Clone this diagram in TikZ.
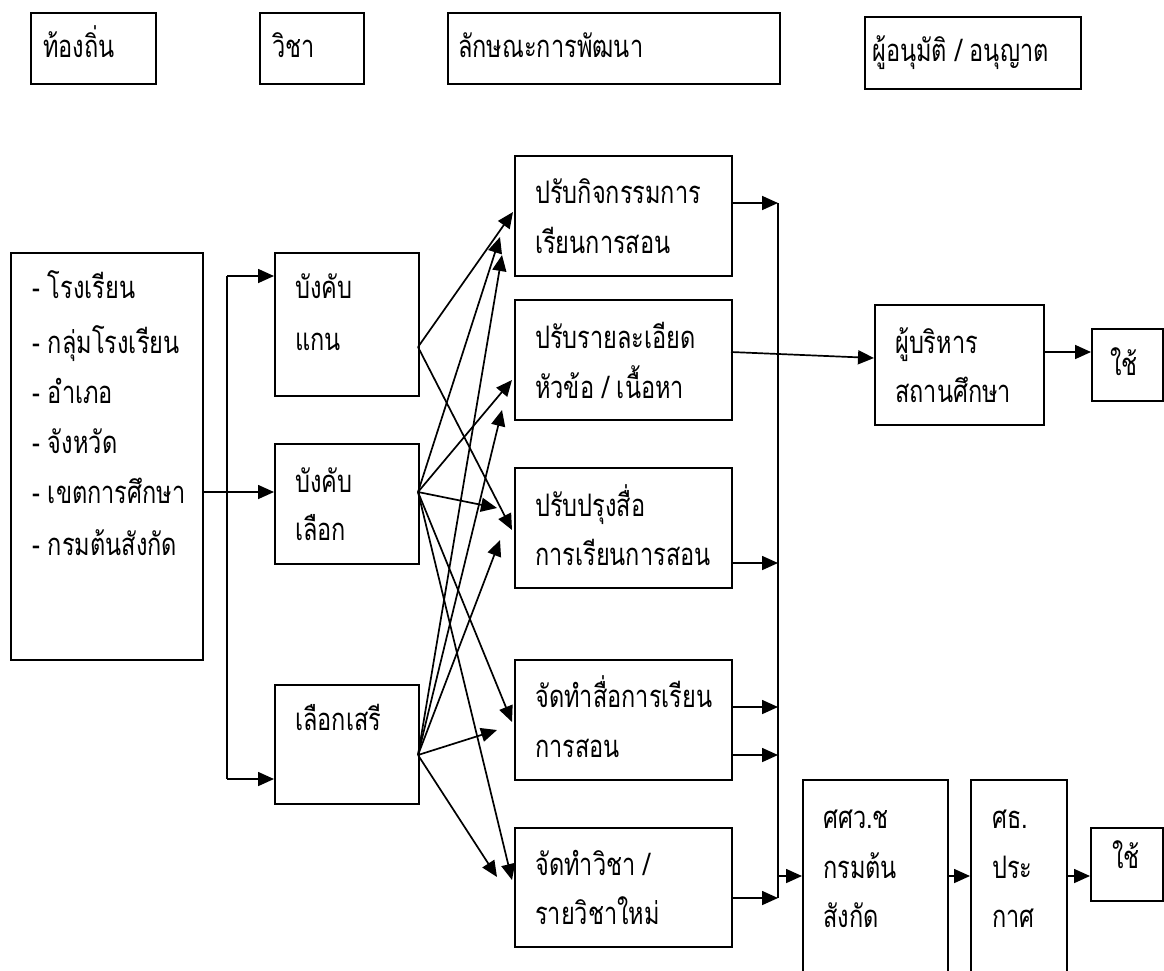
\documentclass[tikz,border=0pt]{standalone}
\usepackage{fontspec}
\newfontfamily\thai[Script=Thai,FakeStretch=0.76]{Loma}
\usetikzlibrary{arrows.meta}
\begin{document}
\begin{tikzpicture}[x=1pt,y=-1pt,
  box/.style={draw, line width=1.7pt, inner sep=0, anchor=north west},
  txt/.style={font=\thai\fontsize{31}{36}\selectfont, anchor=base west, inner sep=0},
  arr/.style={line width=1.7pt, -{Triangle[length=16pt,width=14pt]}},
  ln/.style={line width=1.7pt}]
\useasboundingbox (0,0) rectangle (1164,970);
% header boxes
\node[box, minimum width=125pt, minimum height=71pt] (local) at (30,12) {};
\node[box, minimum width=104pt, minimum height=71pt] (subj) at (259,12) {};
\node[box, minimum width=332pt, minimum height=71pt] (dev) at (447,12) {};
\node[box, minimum width=216pt, minimum height=72pt] (appr) at (864,16) {};
% left
\node[box, minimum width=192pt, minimum height=407pt] (area) at (10,252) {};
\node[box, minimum width=144pt, minimum height=143pt] (kan) at (274,252) {};
\node[box, minimum width=144pt, minimum height=120pt] (lek) at (274,443) {};
\node[box, minimum width=144pt, minimum height=119pt] (seri) at (274,684) {};
% column 3
\node[box, minimum width=217pt, minimum height=120pt] (c1) at (514,155) {};
\node[box, minimum width=217pt, minimum height=120pt] (c2) at (514,299) {};
\node[box, minimum width=217pt, minimum height=120pt] (c3) at (514,467) {};
\node[box, minimum width=217pt, minimum height=120pt] (c4) at (514,659) {};
\node[box, minimum width=217pt, minimum height=119pt] (c5) at (514,827) {};
% right
\node[box, minimum width=169pt, minimum height=120pt] (admin) at (874,304) {};
\node[box, minimum width=71pt, minimum height=72pt] (use1) at (1091,328) {};
\node[box, minimum width=145pt, minimum height=220pt] (sswc) at (802,779) {};
\node[box, minimum width=96pt, minimum height=220pt] (sorT) at (970,779) {};
\node[box, minimum width=72pt, minimum height=73pt] (use2) at (1090,827) {};
% texts
\node[txt] (t1) at (43,57) {ท้องถิ่น};
\node[txt] (t2) at (272,57) {วิชา};
\node[txt] (t3) at (458,57) {ลักษณะการพัฒนา};
\node[txt] (t4) at (872,61) {ผู้อนุมัติ / อนุญาต};
\node[txt] (a1) at (32,298) {- โรงเรียน};
\node[txt] (a2) at (32,353) {- กลุ่มโรงเรียน};
\node[txt] (a3) at (32,403) {- อำเภอ};
\node[txt] (a4) at (32,453) {- จังหวัด};
\node[txt] (a5) at (32,503) {- เขตการศึกษา};
\node[txt] (a6) at (32,555) {- กรมต้นสังกัด};
\node[txt] (k1) at (295,298) {บังคับ};
\node[txt] (k2) at (295,350) {แกน};
\node[txt] (l1) at (295,492) {บังคับ};
\node[txt] (l2) at (295,540) {เลือก};
\node[txt] (s1) at (295,730) {เลือกเสรี};
\node[txt] (c1a) at (535,203) {ปรับกิจกรรมการ};
\node[txt] (c1b) at (535,253) {เรียนการสอน};
\node[txt] (c2a) at (535,348) {ปรับรายละเอียด};
\node[txt] (c2b) at (535,398) {หัวข้อ / เนื้อหา};
\node[txt] (c3a) at (535,516) {ปรับปรุงสื่อ};
\node[txt] (c3b) at (535,565) {การเรียนการสอน};
\node[txt] (c4a) at (535,707) {จัดทำสื่อการเรียน};
\node[txt] (c4b) at (535,757) {การสอน};
\node[txt] (c5a) at (535,875) {จัดทำวิชา /};
\node[txt] (c5b) at (535,924) {รายวิชาใหม่};
\node[txt] (ad1) at (895,353) {ผู้บริหาร};
\node[txt] (ad2) at (895,402) {สถานศึกษา};
\node[txt] (u1) at (1110,375) {ใช้};
\node[txt] (w1) at (823,828) {ศศว.ช};
\node[txt] (w2) at (823,878) {กรมต้น};
\node[txt] (w3) at (823,927) {สังกัด};
\node[txt] (x1) at (992,828) {ศธ.};
\node[txt] (x2) at (992,878) {ประ};
\node[txt] (x3) at (992,927) {กาศ};
\node[txt] (u2) at (1112,868) {ใช้};
% left distribution
\coordinate (aOut) at (202,492);
\coordinate (vTop) at (227,276);
\coordinate (vBot) at (227,779);
\draw[arr] (aOut) -- (lek.west |- aOut);
\draw[ln] (vTop) -- (vBot);
\draw[arr] (vTop) -- (kan.west |- vTop);
\draw[arr] (vBot) -- (seri.west |- vBot);
% fan arrows
\coordinate (sK) at (418,347);
\coordinate (sL) at (418,492);
\coordinate (sS) at (418,755);
\coordinate (p1a) at (513,212);
\coordinate (p1b) at (500,237);
\coordinate (p1c) at (502,255);
\coordinate (p2a) at (512,380);
\coordinate (p2b) at (502,410);
\coordinate (p3a) at (497,508);
\coordinate (p3b) at (512,530);
\coordinate (p3c) at (500,540);
\coordinate (p4a) at (512,722);
\coordinate (p4b) at (497,730);
\coordinate (p5a) at (512,880);
\coordinate (p5b) at (497,877);
\draw[arr] (sK) -- (p1a);
\draw[arr] (sK) -- (p3b);
\draw[arr] (sL) -- (p1b);
\draw[arr] (sL) -- (p2a);
\draw[arr] (sL) -- (p3a);
\draw[arr] (sL) -- (p4a);
\draw[arr] (sL) -- (p5a);
\draw[arr] (sS) -- (p1c);
\draw[arr] (sS) -- (p2b);
\draw[arr] (sS) -- (p3c);
\draw[arr] (sS) -- (p4b);
\draw[arr] (sS) -- (p5b);
% collector
\coordinate (r1) at (778,203);
\coordinate (r3) at (778,563);
\coordinate (r4a) at (778,707);
\coordinate (r4b) at (778,755);
\coordinate (r5) at (778,898);
\coordinate (rOut) at (778,876);
\draw[ln] (r1) -- (r5);
\draw[arr] (c1.east |- r1) -- (r1);
\draw[arr] (c3.east |- r3) -- (r3);
\draw[arr] (c4.east |- r4a) -- (r4a);
\draw[arr] (c4.east |- r4b) -- (r4b);
\draw[arr] (c5.east |- r5) -- (r5);
\coordinate (c2o) at (731,352);
\coordinate (admIn) at (874,358);
\draw[arr] (c2o) -- (admIn);
\coordinate (admOut) at (1043,352);
\draw[arr] (admOut) -- (use1.west |- admOut);
\draw[arr] (rOut) -- (sswc.west |- rOut);
\draw[arr] (sswc.east |- rOut) -- (sorT.west |- rOut);
\draw[arr] (sorT.east |- rOut) -- (use2.west |- rOut);
\end{tikzpicture}
\end{document}
